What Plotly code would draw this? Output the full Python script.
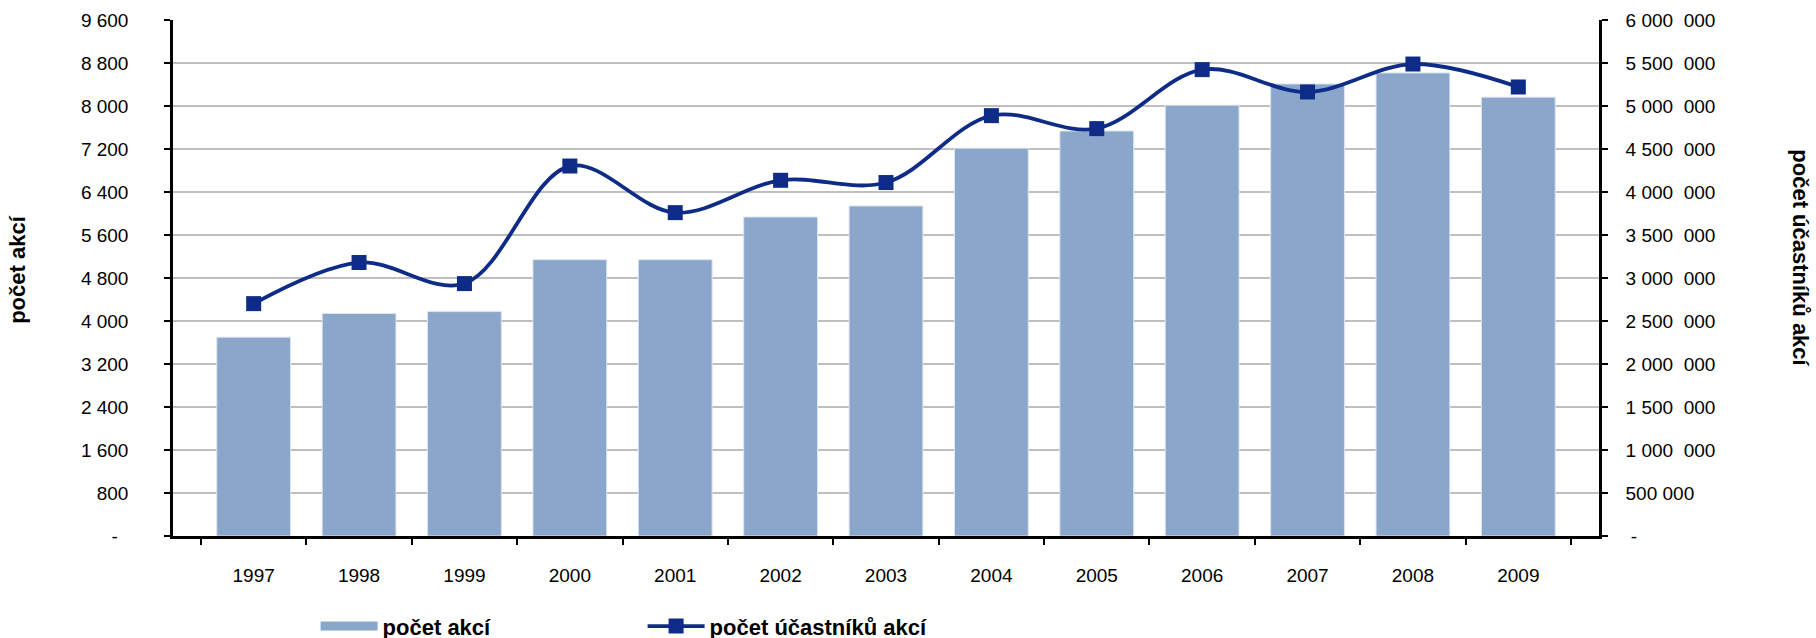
import plotly.graph_objects as go

YEARS = ["1997", "1998", "1999", "2000", "2001", "2002", "2003",
         "2004", "2005", "2006", "2007", "2008", "2009"]
EVENTS = [3700, 4140, 4175, 5140, 5140, 5935, 6140,
          7215, 7535, 8015, 8410, 8615, 8165]
PARTICIPANTS = [2702000, 3180000, 2935000, 4302000, 3760000, 4136000, 4110000,
                4888000, 4737000, 5423000, 5163000, 5488000, 5221000]

LEFT_TICKS = [0, 800, 1600, 2400, 3200, 4000, 4800, 5600, 6400, 7200, 8000, 8800, 9600]
LEFT_LABELS = ["-\u00a0\u00a0", "800", "1 600", "2 400", "3 200", "4 000", "4 800",
               "5 600", "6 400", "7 200", "8 000", "8 800", "9 600"]
RIGHT_TICKS = [0, 500000, 1000000, 1500000, 2000000, 2500000, 3000000,
               3500000, 4000000, 4500000, 5000000, 5500000, 6000000]
RIGHT_LABELS = ["\u00a0-", "500 000", "1 000\u00a0 000", "1 500\u00a0 000", "2 000\u00a0 000",
                "2 500\u00a0 000", "3 000\u00a0 000", "3 500\u00a0 000", "4 000\u00a0 000",
                "4 500\u00a0 000", "5 000\u00a0 000", "5 500\u00a0 000", "6 000\u00a0 000"]

BAR_COLOR = "#8AA6CB"
LINE_COLOR = "#0E2C87"
FONT = "Liberation Sans, Arial, sans-serif"

fig = go.Figure()
fig.add_trace(
    go.Bar(
        x=YEARS,
        y=EVENTS,
        name="počet akcí",
        showlegend=False,
        marker={"color": BAR_COLOR, "line": {"color": "#DCE4EF", "width": 1}},
    )
)
# legend-only entry so the bar swatch is a wide flat strip like the original
fig.add_trace(
    go.Scatter(
        x=[None],
        y=[None],
        name="počet akcí",
        mode="lines",
        line={"color": BAR_COLOR, "width": 9},
    )
)
fig.add_trace(
    go.Scatter(
        x=YEARS,
        y=PARTICIPANTS,
        name="počet účastníků akcí",
        yaxis="y2",
        mode="lines+markers",
        line={"color": LINE_COLOR, "width": 3.8, "shape": "spline", "smoothing": 1.0},
        marker={"symbol": "square", "size": 15, "color": LINE_COLOR},
    )
)

axis_line = {
    "showline": True,
    "linecolor": "black",
    "linewidth": 2.5,
    "ticks": "outside",
    "ticklen": 6,
    "tickwidth": 2,
    "tickcolor": "black",
    "zeroline": False,
    "automargin": False,
}

# figure is a bit taller than the window so the legend box is not clipped;
# the extra strip falls below the visible area
fig.update_layout(
    width=1816,
    height=660,
    template="plotly_white",
    plot_bgcolor="white",
    paper_bgcolor="white",
    font={"family": FONT, "size": 19, "color": "black"},
    margin={"l": 173, "r": 217, "t": 20, "b": 124, "autoexpand": False},
    bargap=0.3,
    showlegend=True,
    legend={
        "orientation": "h",
        "x": 0.1,
        "xanchor": "left",
        "y": -0.175,
        "yanchor": "middle",
        "font": {"size": 22, "family": FONT, "weight": "bold"},
        "itemwidth": 57,
        "entrywidth": 255,
        "traceorder": "normal",
    },
    xaxis={
        **axis_line,
        "type": "category",
        "showgrid": False,
        "tickson": "boundaries",
        "ticklabelstandoff": 20,
    },
    yaxis={
        **axis_line,
        "range": [0, 9600],
        "tickvals": LEFT_TICKS,
        "ticktext": LEFT_LABELS,
        "showgrid": True,
        "gridcolor": "#BFBFBF",
        "gridwidth": 1.5,
        "ticklabelstandoff": 32,
    },
    yaxis2={
        **axis_line,
        "overlaying": "y",
        "side": "right",
        "range": [0, 6000000],
        "tickvals": RIGHT_TICKS,
        "ticktext": RIGHT_LABELS,
        "showgrid": False,
        "ticklabelstandoff": 14,
    },
    annotations=[
        {
            "text": "<b>počet akcí</b>",
            "xref": "paper",
            "yref": "paper",
            "x": -0.109,
            "y": 0.515,
            "xanchor": "center",
            "yanchor": "middle",
            "textangle": -90,
            "showarrow": False,
            "font": {"size": 22, "family": FONT, "color": "black"},
        },
        {
            "text": "<b>počet účastníků akcí</b>",
            "xref": "paper",
            "yref": "paper",
            "x": 1.1417,
            "y": 0.54,
            "xanchor": "center",
            "yanchor": "middle",
            "textangle": 90,
            "showarrow": False,
            "font": {"size": 22, "family": FONT, "color": "black"},
        },
    ],
)

fig.write_html(
    "out.html",
    config={"displayModeBar": False},
    post_script="document.body.style.margin = '0'; document.body.style.overflow = 'hidden';",
)
